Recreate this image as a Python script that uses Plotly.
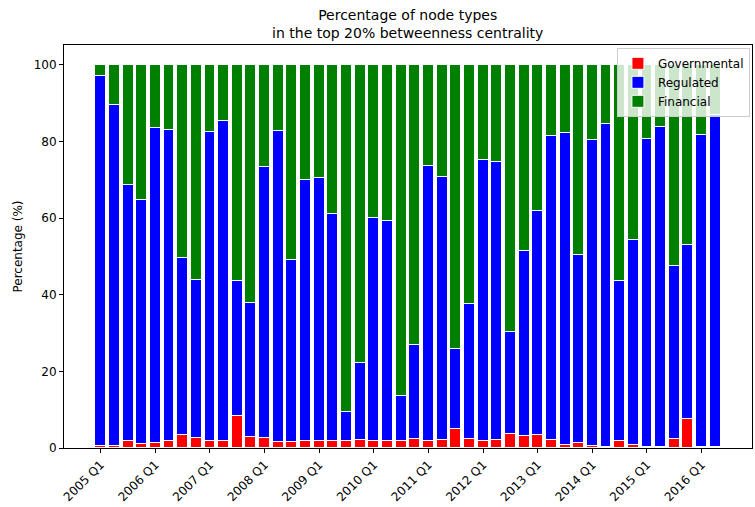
import plotly.graph_objects as go

# Quarters covered by the network snapshots
quarters = [f"{y} Q{q}" for y in range(2005, 2017) for q in range(1, 5)][:46]
tick_labels = [f"{y} Q1" for y in range(2005, 2017)]

# Share (%) of each node type among the top 20% by betweenness centrality
governmental = [0.4, 0.4, 1.8, 1.0, 1.2, 1.8, 3.3, 2.5, 1.8, 1.8,
                8.4, 3.0, 2.5, 1.5, 1.5, 1.8, 1.8, 1.7, 1.8, 2.1,
                1.7, 1.8, 1.8, 2.3, 1.7, 2.0, 4.9, 2.3, 1.8, 2.0,
                3.7, 3.1, 3.3, 2.0, 0.7, 1.2, 0.4, 0.3, 1.7, 0.7,
                0.2, 0.2, 2.4, 7.6, 0.3, 0.2]
regulated = [96.8, 89.2, 66.8, 63.7, 82.4, 81.1, 46.4, 41.3, 80.7, 83.6,
             35.3, 34.8, 70.9, 81.3, 47.6, 68.1, 68.6, 59.3, 7.7, 20.1,
             58.4, 57.4, 11.8, 24.6, 71.9, 68.7, 20.9, 35.2, 73.4, 72.7,
             26.7, 48.2, 58.5, 79.4, 81.4, 49.1, 79.9, 84.3, 41.8, 53.7,
             80.5, 83.5, 45.0, 45.5, 81.5, 86.8]
financial = [2.8, 10.4, 31.4, 35.3, 16.4, 17.1, 50.3, 56.2, 17.5, 14.6,
             56.3, 62.2, 26.6, 17.2, 50.9, 30.1, 29.6, 39.0, 90.5, 77.8,
             39.9, 40.8, 86.4, 73.1, 26.4, 29.3, 74.2, 62.5, 24.8, 25.3,
             69.6, 48.7, 38.2, 18.6, 17.9, 49.7, 19.7, 15.4, 56.5, 45.6,
             19.3, 16.3, 52.6, 46.9, 18.2, 13.0]

series = [("Governmental", governmental, "#ff0000"),
          ("Regulated", regulated, "#0000ff"),
          ("Financial", financial, "#008000")]

FONT = "DejaVu Sans"

fig = go.Figure()
for name, vals, color in series:
    fig.add_trace(go.Bar(
        x=quarters, y=vals, name=name,
        marker=dict(color=color, line=dict(color="white", width=1)),
        width=0.8,
    ))

fig.update_layout(
    width=755, height=507,
    barmode="stack",
    bargap=0,
    plot_bgcolor="white", paper_bgcolor="white",
    margin=dict(l=64, r=3, t=45, b=59),
    font=dict(family=FONT, size=11, color="black"),
    title=dict(
        text="Percentage of node types<br>in the top 20% betweenness centrality",
        x=0.54, xanchor="center",
        yref="container", y=0.961, yanchor="middle",
        font=dict(family=FONT, size=14, color="black"),
    ),
    legend=dict(
        x=0.997, y=0.993, xanchor="right", yanchor="top",
        traceorder="normal",
        bgcolor="rgba(255,255,255,0.8)",
        bordercolor="#cccccc", borderwidth=1,
        font=dict(family=FONT, size=12, color="black"),
        itemwidth=30,
    ),
    showlegend=True,
)

fig.update_xaxes(
    type="category",
    categoryorder="array", categoryarray=quarters,
    range=[-2.69, 47.69],
    tickmode="array", tickvals=tick_labels, ticktext=tick_labels,
    tickangle=-45,
    ticks="outside", ticklen=4, tickcolor="black",
    showline=True, linecolor="black", linewidth=1, mirror=True,
    showgrid=False, zeroline=False,
    tickfont=dict(family=FONT, size=12, color="black"),
)
fig.update_yaxes(
    range=[0, 105.2],
    tickvals=[0, 20, 40, 60, 80, 100],
    ticks="outside", ticklen=4, tickcolor="black",
    showline=True, linecolor="black", linewidth=1, mirror=True,
    showgrid=False, zeroline=False,
    title=dict(text="Percentage (%)", font=dict(family=FONT, size=12, color="black"), standoff=8),
    tickfont=dict(family=FONT, size=12, color="black"),
)

fig.write_html("out.html")
